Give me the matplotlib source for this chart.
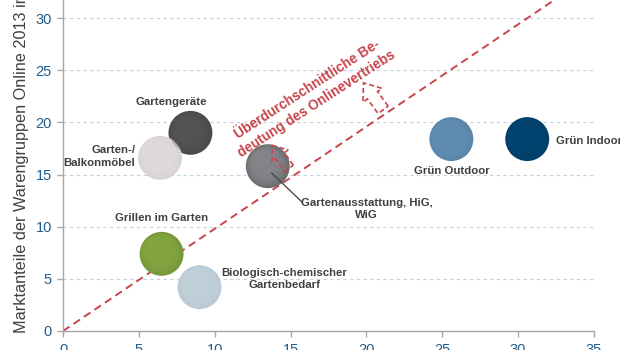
import numpy as np
import matplotlib
matplotlib.use("Agg")
import matplotlib.pyplot as plt
from matplotlib.patches import Polygon
from matplotlib import transforms as mtransforms

plt.rcParams['font.family'] = ['Liberation Sans', 'DejaVu Sans']

# Warengruppen: Marktanteil online 2013 (x) vs. Marktanteil Warengruppe (y)
groups = ["Gartengeräte", "Garten-/\nBalkonmöbel", "Gartenausstattung, HiG,\nWiG",
          "Grün Outdoor", "Grün Indoor", "Grillen im Garten",
          "Biologisch-chemischer\nGartenbedarf"]
x_vals = [8.4, 6.4, 13.5, 25.6, 30.6, 6.5, 9.0]
y_vals = [19.0, 16.6, 15.8, 18.4, 18.4, 7.4, 4.2]
colors = ["#4a4a4c", "#dad3d5", "#6c6d70", "#5a86ab", "#003f69", "#76973a", "#b9cbd6"]
highlights = ["#575759", "#e3dddf", "#8a8b8e", "#6390b4", "#064673", "#88aa44", "#c3d3dc"]

x_ticks = [0, 5, 10, 15, 20, 25, 30, 35]
y_ticks = [0, 5, 10, 15, 20, 25, 30]

# Trennlinie durch den Ursprung
diag_x = [0, 35]
diag_y = [0, 34.3]

W, H = 620, 350
fig = plt.figure(figsize=(W / 100, H / 100), dpi=100)
ax = fig.add_axes([63 / W, 19 / H, (594 - 63) / W, 331 / H])
ax.set_xlim(0, 35)
ax.set_ylim(0, 331 / 10.43)

for s in ["top", "right"]:
    ax.spines[s].set_visible(False)
for s in ["left", "bottom"]:
    ax.spines[s].set_color("#a6a6a6")
    ax.spines[s].set_linewidth(1.0)

ax.set_xticks(x_ticks)
ax.set_yticks(y_ticks)
ax.tick_params(axis="both", colors="#a6a6a6", length=4, width=1.0,
               labelsize=10.5, labelcolor="#215d8c")
ax.tick_params(axis="x", pad=5)
ax.tick_params(axis="y", pad=4)

for yv in y_ticks[1:]:
    ax.axhline(yv, color="#bdd3df", lw=0.8, ls=(0, (3, 3)), zorder=0)

ax.plot(diag_x, diag_y, color="#c9444c", lw=1.4, ls=(0, (4, 2.5)), zorder=2)

# Blasen mit weichem Glanz zur Mitte hin
size = 1000
ax.scatter(x_vals, y_vals, s=size, c=colors, edgecolors="none", zorder=3)
for k, f in enumerate(np.linspace(0.85, 0.25, 7)):
    off = mtransforms.offset_copy(ax.transData, fig=fig, x=-0.4 * (k + 1),
                                  y=0.4 * (k + 1), units="points")
    ax.scatter(x_vals, y_vals, s=size * f, c=highlights, edgecolors="none",
               alpha=0.22, zorder=3, transform=off)

lab = dict(fontsize=8.2, fontweight="bold", color="#404040", zorder=5)
ax.annotate(groups[0], (x_vals[0], y_vals[0]), xytext=(-14, 22),
            textcoords="offset points", ha="center", va="center", **lab)
ax.annotate(groups[1], (x_vals[1], y_vals[1]), xytext=(-18, 1),
            textcoords="offset points", ha="right", va="center",
            multialignment="right", linespacing=1.3, **lab)
ax.annotate(groups[2], (x_vals[2], y_vals[2]), xytext=(71, -31),
            textcoords="offset points", ha="center", va="center",
            linespacing=1.3, **lab)
ax.annotate("", (x_vals[2] + 0.25, y_vals[2] - 0.65), xytext=(22, -21),
            textcoords="offset points",
            arrowprops=dict(arrowstyle="-", color="#404040", lw=0.9,
                            shrinkA=0, shrinkB=0), zorder=4)
ax.annotate(groups[3], (x_vals[3], y_vals[3]), xytext=(0, -23),
            textcoords="offset points", ha="center", va="center", **lab)
ax.annotate(groups[4], (x_vals[4], y_vals[4]), xytext=(21, -1.5),
            textcoords="offset points", ha="left", va="center", **lab)
ax.annotate(groups[5], (x_vals[5], y_vals[5]), xytext=(0, 26),
            textcoords="offset points", ha="center", va="center", **lab)
ax.annotate(groups[6], (x_vals[6], y_vals[6]), xytext=(61, 6),
            textcoords="offset points", ha="center", va="center",
            linespacing=1.3, **lab)

# Hinweis oberhalb der Linie
ax.text(16.4, 22.5, "Überdurchschnittliche Be-\ndeutung des Onlinevertriebs",
        rotation=33, rotation_mode="anchor", ha="center", va="center",
        fontsize=9.8, fontweight="bold", color="#c9444c", linespacing=1.3, zorder=5)

# Gestrichelte Blockpfeile (in Punkten, zur Linie senkrecht)
def block_arrow(xd, yd, scale):
    L, hl, hw, sw = 24 * scale, 11 * scale, 8.5 * scale, 4.5 * scale
    pts = np.array([[0, -sw], [L - hl, -sw], [L - hl, -hw], [L, 0],
                    [L - hl, hw], [L - hl, sw], [0, sw]]) / 72.0
    tr = (mtransforms.Affine2D().rotate_deg(126) + fig.dpi_scale_trans
          + mtransforms.ScaledTranslation(xd, yd, ax.transData))
    p = Polygon(pts, closed=True, fill=False, edgecolor="#c9444c", lw=1.2,
                ls=(0, (3, 1.8)), transform=tr, zorder=6)
    ax.add_patch(p)

block_arrow(21.1, 21.2, 1.0)
block_arrow(14.9, 15.6, 0.85)

fig.text(22 / W, 17 / H, "Marktanteile der Warengruppen Online 2013 in %",
         rotation=90, ha="center", va="bottom", fontsize=11.7, color="#404040")

fig.savefig("out.png", dpi=100)
